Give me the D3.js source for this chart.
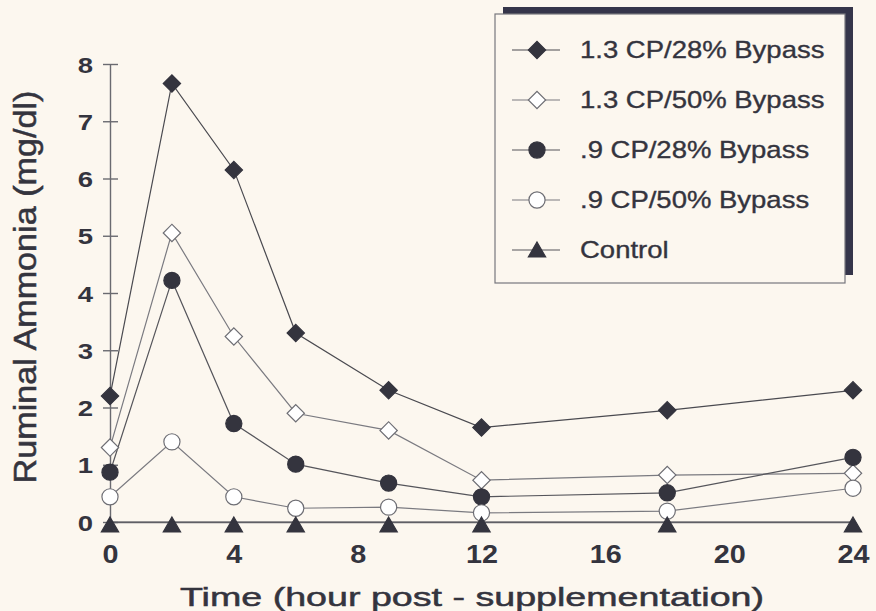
<!DOCTYPE html>
<html>
<head>
<meta charset="utf-8">
<script src="https://cdn.jsdelivr.net/npm/d3@7"></script>
<style>
  html, body { margin: 0; padding: 0; background: #fcf7ef; }
  svg { display: block; font-family: "Liberation Sans", Arial, sans-serif; }
</style>
</head>
<body>
<svg id="svg"></svg>
<script>
// data

let hours = [0, 2, 4, 6, 9, 12, 18, 24];
let cp13b28 = [2.2, 7.66, 6.15, 3.3, 2.3, 1.65, 1.95, 2.3];
let cp13b50 = [1.3, 5.05, 3.24, 1.9, 1.6, 0.73, 0.82, 0.85];
let cp09b28 = [0.87, 4.22, 1.72, 1.01, 0.68, 0.44, 0.51, 1.13];
let cp09b50 = [0.44, 1.4, 0.44, 0.24, 0.26, 0.16, 0.19, 0.59];
let control = [0, 0, 0, 0, 0, 0, 0, 0];

let seriesNames = ["1.3 CP/28% Bypass", "1.3 CP/50% Bypass", ".9 CP/28% Bypass", ".9 CP/50% Bypass", "Control"];
let xTicks = [0, 4, 8, 12, 16, 20, 24];
let yTicks = [0, 1, 2, 3, 4, 5, 6, 7, 8];

// variables

let width = 876;
let height = 611;
let svg = d3.select("#svg").attr("width", width).attr("height", height);

let ink = "#34343e";
let xScale = d3.scaleLinear().domain([0, 24]).range([110, 853]);
let yScale = d3.scaleLinear().domain([0, 8]).range([522, 64]);

let series = [
  {name: seriesNames[0], values: cp13b28, shape: "diamond", filled: true, line: "#4a4a50"},
  {name: seriesNames[1], values: cp13b50, shape: "diamond", filled: false, line: "#7a7a80"},
  {name: seriesNames[2], values: cp09b28, shape: "circle", filled: true, line: "#55555b"},
  {name: seriesNames[3], values: cp09b50, shape: "circle", filled: false, line: "#7a7a80"},
  {name: seriesNames[4], values: control, shape: "triangle", filled: true, line: "#55555b"}
];

let symbolPath = (shape) => {
  if (shape == "diamond") return d3.symbol().type(d3.symbolSquare).size(150)();
  if (shape == "circle") return d3.symbol().type(d3.symbolCircle).size(205)();
  return d3.symbol().type(d3.symbolTriangle).size(130)();
}

let symbolTransform = (shape, x, y) => {
  if (shape == "diamond") return "translate(" + x + "," + y + ") rotate(45)";
  if (shape == "triangle") return "translate(" + x + "," + (y + 5) + ")";
  return "translate(" + x + "," + y + ")";
}

let drawMarker = (g, s, x, y) => {
  g.append("path")
    .attr("d", symbolPath(s.shape))
    .attr("transform", symbolTransform(s.shape, x, y))
    .attr("fill", s.filled ? ink : "#ffffff")
    .attr("stroke", s.filled ? ink : "#6e6e74")
    .attr("stroke-width", 1.2);
}

// axes

let makeAxes = () => {
  let yAxis = d3.axisLeft(yScale).tickValues(yTicks).tickSizeInner(7).tickSizeOuter(0).tickPadding(10);
  let gy = svg.append("g")
    .attr("transform", "translate(" + xScale(0) + ",0)")
    .call(yAxis);
  gy.select(".domain").attr("stroke", "#6a6a70").attr("stroke-width", 1.4);
  gy.selectAll(".tick line").attr("stroke", "#6a6a70").attr("stroke-width", 1.4);
  gy.selectAll(".tick text")
    .attr("x", null).attr("dy", null)
    .attr("text-anchor", "end")
    .attr("transform", "translate(-17,8) scale(1.25,1)")
    .attr("fill", ink)
    .attr("font-size", 22)
    .attr("font-weight", "bold")
    .style("font-family", "Liberation Sans, Arial, sans-serif");

  // right half of the y ticks
  let yRight = d3.axisRight(yScale).tickValues(yTicks).tickSize(8).tickFormat("");
  let gy2 = svg.append("g")
    .attr("transform", "translate(" + xScale(0) + ",0)")
    .call(yRight);
  gy2.select(".domain").remove();
  gy2.selectAll(".tick line").attr("stroke", "#6a6a70").attr("stroke-width", 1.4);

  let xAxis = d3.axisBottom(xScale).tickValues(xTicks).tickSize(0).tickFormat(d3.format("d"));
  let gx = svg.append("g")
    .attr("transform", "translate(0," + yScale(0) + ")")
    .call(xAxis);
  gx.select(".domain").attr("stroke", "#6a6a70").attr("stroke-width", 1.4);
  gx.selectAll(".tick text")
    .attr("y", null).attr("dy", null)
    .attr("transform", "translate(0,41) scale(1.15,1)")
    .attr("fill", ink)
    .attr("font-size", 25)
    .attr("font-weight", "bold")
    .style("font-family", "Liberation Sans, Arial, sans-serif");

  svg.append("text")
    .attr("transform", "translate(472,606) scale(1.42,1)")
    .attr("text-anchor", "middle")
    .attr("font-size", 26.5)
    .attr("fill", ink)
    .attr("stroke", ink)
    .attr("stroke-width", 0.5)
    .text("Time (hour post - supplementation)");

  svg.append("text")
    .attr("transform", "translate(36,287) rotate(-90) scale(1.12,1)")
    .attr("text-anchor", "middle")
    .attr("font-size", 30.5)
    .attr("fill", ink)
    .attr("stroke", ink)
    .attr("stroke-width", 0.5)
    .text("Ruminal Ammonia (mg/dl)");
}

// lines and markers

let makeGraph = () => {
  let line = d3.line()
    .x((d, i) => xScale(hours[i]))
    .y((d) => yScale(d));

  series.forEach((s) => {
    svg.append("path")
      .attr("d", line(s.values))
      .attr("fill", "none")
      .attr("stroke", s.line)
      .attr("stroke-width", 1.2);
  });

  series.forEach((s) => {
    let g = svg.append("g");
    s.values.forEach((v, i) => {
      drawMarker(g, s, xScale(hours[i]), yScale(v));
    });
  });
}

// legend

let makeLegend = () => {
  let lg = svg.append("g");
  lg.append("rect")
    .attr("x", 503).attr("y", 7).attr("width", 350).attr("height", 268)
    .attr("fill", "#35354a");
  lg.append("rect")
    .attr("x", 495).attr("y", 14).attr("width", 350).attr("height", 269)
    .attr("fill", "#fcf7ef")
    .attr("stroke", "#77777d")
    .attr("stroke-width", 1.2);

  series.forEach((s, i) => {
    let cy = 50 + i * 50;
    lg.append("line")
      .attr("x1", 512).attr("x2", 560)
      .attr("y1", cy).attr("y2", cy)
      .attr("stroke", s.line)
      .attr("stroke-width", 1.2);
    drawMarker(lg, s, 537, s.shape == "triangle" ? cy - 3 : cy);
    lg.append("text")
      .attr("transform", "translate(580," + (cy + 8) + ") scale(1.17,1)")
      .attr("font-size", 23.5)
      .attr("fill", ink)
      .attr("stroke", ink)
      .attr("stroke-width", 0.35)
      .text(s.name);
  });
}

makeAxes();
makeGraph();
makeLegend();
</script>
</body>
</html>
